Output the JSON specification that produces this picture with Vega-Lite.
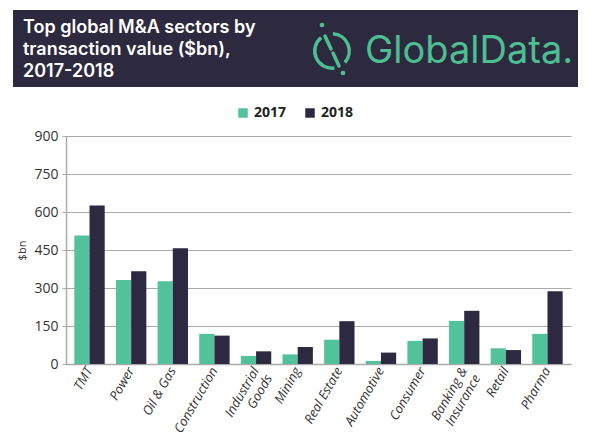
{
  "$schema": "https://vega.github.io/schema/vega-lite/v6.json",
  "width": 505,
  "height": 228,
  "autosize": {"type": "none"},
  "padding": {"left": 66, "top": 136, "right": 29, "bottom": 81},
  "background": "white",
  "config": {
    "font": "Open Sans",
    "view": {"stroke": null}
  },
  "layer": [
    {
      "data": {"values": [{}]},
      "mark": {"type": "rect", "fill": "#2d2a3f"},
      "encoding": {
        "x": {"value": -53},
        "x2": {"value": 512},
        "y": {"value": -126},
        "y2": {"value": -49}
      }
    },
    {
      "data": {"values": [{"t": "Top global M&A sectors by\ntransaction value ($bn),\n2017-2018"}]},
      "mark": {"type": "text", "align": "left", "baseline": "alphabetic", "font": "Inter", "fontWeight": 600, "fontSize": 18, "lineHeight": 22, "lineBreak": "\n", "color": "#ffffff"},
      "encoding": {
        "x": {"value": -43},
        "y": {"value": -103},
        "text": {"field": "t"}
      }
    },
    {
      "data": {"values": [{"t": "GlobalData."}]},
      "mark": {"type": "text", "align": "left", "baseline": "middle", "font": "Inter", "fontWeight": 400, "fontSize": 38, "color": "#4cbf92"},
      "encoding": {
        "x": {"value": 299},
        "y": {"value": -84},
        "text": {"field": "t"}
      }
    },
    {
      "data": {"values": [{"a": 0.05, "b": 2.3}, {"a": 3.0, "b": 5.6}]},
      "mark": {"type": "arc", "x": 266, "y": -85, "radius": 19, "radius2": 15.5, "color": "#4cbf92"},
      "encoding": {
        "theta": {"field": "a", "type": "quantitative", "scale": null},
        "theta2": {"field": "b"}
      }
    },
    {
      "data": {"values": [{"x": 259, "y": -100, "x2": 265, "y2": -87}, {"x": 267, "y": -83, "x2": 273, "y2": -70}]},
      "mark": {"type": "rule", "strokeWidth": 3.5, "color": "#4cbf92", "strokeCap": "round"},
      "encoding": {
        "x": {"field": "x", "type": "quantitative", "scale": null},
        "x2": {"field": "x2"},
        "y": {"field": "y", "type": "quantitative", "scale": null},
        "y2": {"field": "y2"}
      }
    },
    {
      "data": {"values": [{"x": 256, "y": -111}, {"x": 277, "y": -63}]},
      "mark": {"type": "point", "filled": true, "size": 22, "opacity": 1, "color": "#4cbf92"},
      "encoding": {
        "x": {"field": "x", "type": "quantitative", "scale": null},
        "y": {"field": "y", "type": "quantitative", "scale": null}
      }
    },
    {
      "data": {
        "values": [
          {"sector": "TMT", "year": "2017", "value": 507},
          {"sector": "TMT", "year": "2018", "value": 626},
          {"sector": "Power", "year": "2017", "value": 332},
          {"sector": "Power", "year": "2018", "value": 366},
          {"sector": "Oil & Gas", "year": "2017", "value": 327},
          {"sector": "Oil & Gas", "year": "2018", "value": 457},
          {"sector": "Construction", "year": "2017", "value": 119},
          {"sector": "Construction", "year": "2018", "value": 112},
          {"sector": "Industrial Goods", "year": "2017", "value": 32},
          {"sector": "Industrial Goods", "year": "2018", "value": 50},
          {"sector": "Mining", "year": "2017", "value": 38},
          {"sector": "Mining", "year": "2018", "value": 67},
          {"sector": "Real Estate", "year": "2017", "value": 96},
          {"sector": "Real Estate", "year": "2018", "value": 169},
          {"sector": "Automotive", "year": "2017", "value": 12},
          {"sector": "Automotive", "year": "2018", "value": 45},
          {"sector": "Consumer", "year": "2017", "value": 91},
          {"sector": "Consumer", "year": "2018", "value": 101},
          {"sector": "Banking & Insurance", "year": "2017", "value": 170},
          {"sector": "Banking & Insurance", "year": "2018", "value": 210},
          {"sector": "Retail", "year": "2017", "value": 62},
          {"sector": "Retail", "year": "2018", "value": 55},
          {"sector": "Pharma", "year": "2017", "value": 119},
          {"sector": "Pharma", "year": "2018", "value": 287}
        ]
      },
      "mark": {"type": "bar"},
      "encoding": {
        "x": {
          "field": "sector",
          "type": "nominal",
          "sort": null,
          "scale": {"paddingInner": 0.27, "paddingOuter": 0.2},
          "axis": {
            "title": null,
            "labelAngle": -60,
            "labelAlign": "right",
            "labelBaseline": "middle",
            "labelFontStyle": "italic",
            "labelFontSize": 13,
            "labelColor": "#333333",
            "labelPadding": 4,
            "ticks": false,
            "domainColor": "#aaaaaa",
            "domainWidth": 1.5,
            "labelExpr": "datum.value == 'Industrial Goods' ? ['Industrial', 'Goods'] : datum.value == 'Banking & Insurance' ? ['Banking &', 'Insurance'] : datum.value"
          }
        },
        "xOffset": {"field": "year", "type": "nominal"},
        "y": {
          "field": "value",
          "type": "quantitative",
          "scale": {"domain": [0, 900]},
          "axis": {
            "title": "$bn",
            "titleFontSize": 11,
            "titleFontWeight": "normal",
            "titleColor": "#333333",
            "titlePadding": 6,
            "values": [0, 150, 300, 450, 600, 750, 900],
            "labelFontSize": 14,
            "labelColor": "#333333",
            "labelPadding": 4,
            "tickSize": 4,
            "tickColor": "#aaaaaa",
            "domainColor": "#aaaaaa",
            "domainWidth": 1.5,
            "gridColor": "#aaaaaa",
            "gridWidth": 1.2
          }
        },
        "color": {
          "field": "year",
          "type": "nominal",
          "scale": {"domain": ["2017", "2018"], "range": ["#52c29a", "#2c2940"]},
          "legend": {
            "title": null,
            "orient": "none",
            "direction": "horizontal",
            "legendX": 170,
            "legendY": -30,
            "symbolType": "square",
            "symbolSize": 90,
            "symbolStrokeWidth": 0,
            "labelFontSize": 14,
            "labelFontWeight": "bold",
            "labelColor": "#222222",
            "columnPadding": 16,
            "labelOffset": 4
          }
        }
      }
    }
  ]
}
